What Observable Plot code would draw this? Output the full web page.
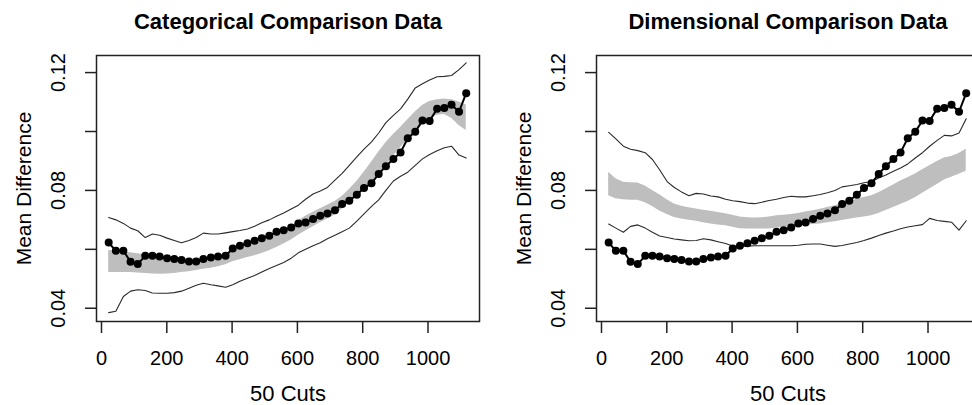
<!DOCTYPE html>
<html>
<head>
<meta charset="utf-8">
<script src="https://cdn.jsdelivr.net/npm/d3@7"></script>
<script src="https://cdn.jsdelivr.net/npm/@observablehq/plot@0.6"></script>
<style>
  html, body { margin: 0; padding: 0; background: #fff; }
  #wrap { width: 972px; height: 405px; display: flex; overflow: hidden; }
  #wrap svg { flex: none; display: block; }
</style>
</head>
<body>
<div id="wrap"></div>
<script>
// ---- data ----
const cuts = [22, 44, 67, 89, 111, 134, 156, 178, 201, 223, 245, 268, 290, 312, 335, 357, 380, 402, 424, 447,
  469, 491, 514, 536, 558, 581, 603, 625, 648, 670, 692, 715, 737, 759, 782, 804, 827, 849, 871, 894,
  916, 938, 961, 983, 1005, 1028, 1050, 1072, 1095, 1117];

const observed = [0.0623, 0.0595, 0.0595, 0.0558, 0.0550, 0.0578, 0.0578, 0.0576, 0.0570, 0.0567,
  0.0564, 0.0559, 0.0559, 0.0567, 0.0572, 0.0576, 0.0578, 0.0603, 0.0612, 0.0621,
  0.0629, 0.0638, 0.0646, 0.0660, 0.0665, 0.0674, 0.0688, 0.0691, 0.0703, 0.0714,
  0.0722, 0.0733, 0.0754, 0.0765, 0.0785, 0.0808, 0.0824, 0.0856, 0.0882, 0.0907,
  0.0929, 0.0977, 0.0999, 0.1037, 0.1036, 0.1077, 0.1080, 0.1091, 0.1067, 0.1130];

// Categorical comparison data
const catUpper = [0.0708, 0.0700, 0.0688, 0.0672, 0.0663, 0.0640, 0.0652, 0.0648, 0.0638, 0.0630,
  0.0622, 0.0630, 0.0640, 0.0655, 0.0652, 0.0652, 0.0656, 0.0660, 0.0664, 0.0669,
  0.0678, 0.0690, 0.0700, 0.0712, 0.0723, 0.0737, 0.0750, 0.0770, 0.0788, 0.0798,
  0.0810, 0.0835, 0.0858, 0.0885, 0.0914, 0.0940, 0.0965, 0.0995, 0.1030, 0.1055,
  0.1077, 0.1110, 0.1148, 0.1162, 0.1175, 0.1186, 0.1187, 0.1190, 0.1210, 0.1233];
const catLower = [0.0385, 0.0390, 0.0440, 0.0458, 0.0463, 0.0460, 0.0452, 0.0451, 0.0451, 0.0453,
  0.0458, 0.0468, 0.0478, 0.0485, 0.0480, 0.0476, 0.0471, 0.0480, 0.0492, 0.0502,
  0.0511, 0.0523, 0.0535, 0.0545, 0.0555, 0.0570, 0.0588, 0.0600, 0.0612, 0.0622,
  0.0636, 0.0648, 0.0660, 0.0672, 0.0696, 0.0720, 0.0746, 0.0768, 0.0800, 0.0832,
  0.0848, 0.0862, 0.0885, 0.0907, 0.0922, 0.0935, 0.0945, 0.0950, 0.0920, 0.0910];
const catBandLo = [0.0521, 0.0521, 0.0521, 0.0521, 0.0520, 0.0518, 0.0516, 0.0515, 0.0516, 0.0518,
  0.0521, 0.0524, 0.0528, 0.0532, 0.0536, 0.0541, 0.0548, 0.0558, 0.0565, 0.0572,
  0.0578, 0.0586, 0.0595, 0.0606, 0.0618, 0.0632, 0.0648, 0.0662, 0.0677, 0.0690,
  0.0703, 0.0716, 0.0736, 0.0762, 0.0782, 0.0802, 0.0828, 0.0855, 0.0885, 0.0916,
  0.0946, 0.0973, 0.1000, 0.1025, 0.1044, 0.1055, 0.1058, 0.1045, 0.1020, 0.1003];
const catBandHi = [0.0596, 0.0594, 0.0591, 0.0588, 0.0585, 0.0582, 0.0579, 0.0576, 0.0573, 0.0570,
  0.0568, 0.0567, 0.0567, 0.0568, 0.0571, 0.0576, 0.0584, 0.0594, 0.0602, 0.0610,
  0.0618, 0.0627, 0.0637, 0.0648, 0.0661, 0.0676, 0.0697, 0.0712, 0.0726, 0.0738,
  0.0750, 0.0762, 0.0779, 0.0803, 0.0830, 0.0862, 0.0896, 0.0930, 0.0962, 0.0990,
  0.1014, 0.1040, 0.1066, 0.1088, 0.1102, 0.1108, 0.1110, 0.1108, 0.1100, 0.1090];

// Dimensional comparison data
const dimUpper = [0.0997, 0.0975, 0.0950, 0.0940, 0.0935, 0.0928, 0.0905, 0.0870, 0.0830, 0.0810,
  0.0795, 0.0782, 0.0790, 0.0788, 0.0781, 0.0778, 0.0770, 0.0765, 0.0762, 0.0757,
  0.0755, 0.0760, 0.0766, 0.0770, 0.0776, 0.0780, 0.0778, 0.0778, 0.0782, 0.0786,
  0.0792, 0.0800, 0.0812, 0.0816, 0.0820, 0.0826, 0.0830, 0.0842, 0.0852, 0.0865,
  0.0876, 0.0890, 0.0910, 0.0928, 0.0950, 0.0970, 0.0987, 0.0985, 0.0995, 0.1043];
const dimLower = [0.0686, 0.0672, 0.0658, 0.0678, 0.0683, 0.0672, 0.0658, 0.0645, 0.0640, 0.0635,
  0.0632, 0.0629, 0.0630, 0.0636, 0.0632, 0.0626, 0.0620, 0.0611, 0.0610, 0.0611,
  0.0612, 0.0612, 0.0612, 0.0612, 0.0612, 0.0612, 0.0614, 0.0617, 0.0618, 0.0618,
  0.0614, 0.0610, 0.0613, 0.0618, 0.0623, 0.0630, 0.0638, 0.0647, 0.0655, 0.0662,
  0.0670, 0.0676, 0.0680, 0.0684, 0.0705, 0.0698, 0.0695, 0.0692, 0.0665, 0.0697];
const dimBandLo = [0.0782, 0.0772, 0.0768, 0.0767, 0.0767, 0.0758, 0.0745, 0.0730, 0.0718, 0.0708,
  0.0703, 0.0699, 0.0695, 0.0690, 0.0686, 0.0683, 0.0680, 0.0675, 0.0670, 0.0669,
  0.0669, 0.0669, 0.0669, 0.0672, 0.0675, 0.0678, 0.0680, 0.0682, 0.0684, 0.0686,
  0.0690, 0.0694, 0.0698, 0.0702, 0.0706, 0.0710, 0.0714, 0.0722, 0.0732, 0.0742,
  0.0752, 0.0762, 0.0775, 0.0790, 0.0805, 0.0820, 0.0835, 0.0845, 0.0855, 0.0865];
const dimBandHi = [0.0862, 0.0840, 0.0828, 0.0826, 0.0825, 0.0815, 0.0800, 0.0785, 0.0768, 0.0754,
  0.0746, 0.0741, 0.0737, 0.0733, 0.0729, 0.0725, 0.0721, 0.0716, 0.0710, 0.0707,
  0.0706, 0.0707, 0.0710, 0.0714, 0.0716, 0.0718, 0.0722, 0.0727, 0.0731, 0.0736,
  0.0742, 0.0748, 0.0755, 0.0762, 0.0770, 0.0776, 0.0782, 0.0792, 0.0805, 0.0818,
  0.0832, 0.0843, 0.0856, 0.0870, 0.0884, 0.0898, 0.0910, 0.0915, 0.0925, 0.0940];

const xTicks = [0, 200, 400, 600, 800, 1000];
const yTicks = [0.04, 0.06, 0.08, 0.10, 0.12];
const yLabels = [0.04, 0.08, 0.12];
const titles = ["Categorical Comparison Data", "Dimensional Comparison Data"];
const xLabel = "50 Cuts";
const yLabel = "Mean Difference";

// ---- drawing ----
const FONT = "'Liberation Sans', Arial, Helvetica, sans-serif";

function panel(title, upper, lower, bandLo, bandHi, opts) {
  const rows = cuts.map((x, i) => ({
    x, obs: observed[i], up: upper[i], lo: lower[i], blo: bandLo[i], bhi: bandHi[i]
  }));
  return Plot.plot({
    width: opts.width,
    height: 405,
    marginTop: 55,
    marginBottom: 84,
    marginLeft: opts.marginLeft,
    marginRight: 7,
    style: { fontFamily: FONT, fontSize: "20px", color: "#000", background: "#fff", overflow: "visible" },
    x: { domain: [-15.3, 1157.7], label: null },
    y: { domain: [0.0355, 0.1258], label: null },
    marks: [
      Plot.areaY(rows, { x: "x", y1: "blo", y2: "bhi", fill: "#bebebe", curve: "linear" }),
      Plot.line(rows, { x: "x", y: "up", stroke: "#2a2a2a", strokeWidth: 1.1 }),
      Plot.line(rows, { x: "x", y: "lo", stroke: "#2a2a2a", strokeWidth: 1.1 }),
      Plot.line(rows, { x: "x", y: "obs", stroke: "#000", strokeWidth: 2 }),
      Plot.dot(rows, { x: "x", y: "obs", r: 4, fill: "#000", stroke: "none" }),
      Plot.frame({ stroke: "#222", strokeWidth: 1.5 }),
      Plot.axisX(xTicks, { tickSize: 12, tickPadding: 17, fontSize: 20, stroke: "#222", strokeWidth: 1.5, tickFormat: d => String(d) }),
      Plot.axisY(yTicks, { tickSize: 11, tickFormat: () => "", stroke: "#222", strokeWidth: 1.5 }),
      Plot.text(yLabels, { y: d => d, text: d => d.toFixed(2), frameAnchor: "left", textAnchor: "middle", lineAnchor: "middle", dx: -38, rotate: -90, fontSize: 20, fill: "#000" }),
      Plot.text([yLabel], { text: d => d, frameAnchor: "left", textAnchor: "middle", lineAnchor: "middle", dx: -72, rotate: -90, fontSize: 21, fill: "#000" }),
      Plot.text([xLabel], { text: d => d, frameAnchor: "bottom", lineAnchor: "bottom", dy: 79, fontSize: 22, fill: "#000" }),
      Plot.text([title], { text: d => d, frameAnchor: "top", lineAnchor: "top", dy: -42, fontSize: 22, fontWeight: "bold", fill: "#000" })
    ]
  });
}

const wrap = document.getElementById("wrap");
wrap.appendChild(panel(titles[0], catUpper, catLower, catBandLo, catBandHi, { width: 486, marginLeft: 96 }));
wrap.appendChild(panel(titles[1], dimUpper, dimLower, dimBandLo, dimBandHi, { width: 500, marginLeft: 110 }));
</script>
</body>
</html>
